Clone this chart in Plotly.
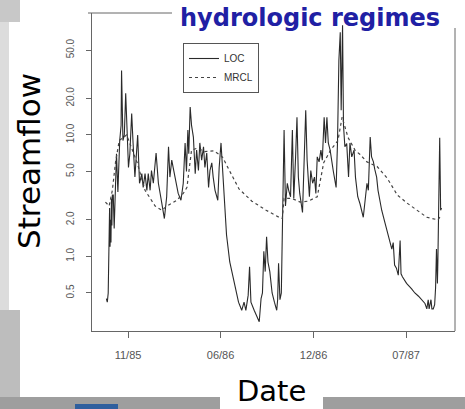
import pandas as pd
import plotly.graph_objects as go

# ---------------- data ----------------
start_date = "1985-10-01"

loc_day = [2, 4, 6, 7, 9, 10, 11, 12, 13, 14, 15, 17, 19, 24, 27, 31, 34, 35, 38, 41,
           44, 47, 50, 53, 57, 60, 64, 70, 74, 79, 82, 86, 90, 93, 97, 100, 104, 110, 115, 122,
           128, 133, 137, 140, 144, 147, 151, 158, 164, 169, 173, 176, 179, 181, 184, 187, 191, 195, 198, 202,
           205, 209, 213, 216, 220, 224, 227, 231, 234, 238, 244, 247, 251, 254, 258, 263, 270, 281, 289, 296,
           301, 305, 310, 313, 316, 323, 329, 334, 338, 341, 344, 347, 350, 353, 357, 362, 367, 372, 374, 376,
           379, 382, 385, 388, 391, 395, 398, 402, 406, 409, 413, 416, 419, 422, 428, 432, 435, 438, 443, 446,
           450, 454, 457, 460, 464, 468, 471, 475, 478, 481, 484, 488, 491, 495, 501, 504, 507, 510, 512, 515,
           517, 520, 524, 528, 531, 535, 540, 543, 548, 553, 560, 565, 568, 571, 575, 578, 582, 585, 589, 592,
           600, 607, 614, 622, 625, 628, 632, 636, 640, 642, 645, 654, 665, 672, 680, 687, 694, 698, 701, 703,
           707, 709, 712, 715, 717, 719, 721, 722, 724, 726, 728, 730]
loc_flow = [0.45, 0.42, 0.5, 1.0, 2.5, 1.2, 2.0, 1.3, 3.0, 1.8, 3.2, 3.2, 1.7, 7.0, 3.4, 9.0, 12, 34, 9, 10,
            22, 9, 5.4, 7, 15, 8.6, 4.5, 10, 4.0, 4.8, 3.7, 4.8, 3.5, 4.8, 3.5, 5.1, 4.0, 7.1, 4.0, 2.8,
            2.05, 3.1, 8.0, 4.5, 6.2, 5.4, 4.5, 3.3, 2.9, 4.0, 8.6, 5.0, 11, 7, 17, 12, 9.6, 4.8, 7.5, 5.1,
            8.6, 6.2, 8.0, 5.4, 7.1, 3.7, 5.1, 5.9, 4.5, 3.5, 2.9, 5.4, 8.6, 5.2, 2.8, 1.5, 0.9, 0.56, 0.42, 0.36,
            0.42, 0.36, 0.48, 0.82, 0.42, 0.36, 0.32, 0.29, 0.45, 0.5, 1.1, 0.75, 1.45, 0.9, 0.75, 0.5, 0.42, 0.36, 0.44, 0.88,
            0.44, 0.5, 2.4, 11, 2.6, 4.0, 3.5, 3.1, 11, 3.0, 6.6, 14, 4.5, 3.3, 2.3, 6.2, 16, 6.2, 3.1, 5.1,
            4.0, 4.5, 3.3, 6.6, 6.0, 7.5, 6.2, 14, 8.6, 14, 8.6, 7.5, 6.0, 5.0, 3.7, 8.6, 41, 70, 16, 80,
            12, 8, 8.5, 4.5, 8.6, 6.6, 7.5, 4.5, 3.1, 2.7, 2.1, 3.0, 4.0, 3.5, 9.6, 6.6, 6.0, 5.2, 4.5, 3.5,
            2.4, 1.9, 1.5, 1.15, 1.3, 0.85, 0.8, 0.7, 1.35, 0.72, 0.68, 0.6, 0.54, 0.5, 0.47, 0.44, 0.41, 0.37, 0.44, 0.37,
            0.44, 0.37, 0.37, 0.4, 0.55, 1.15, 0.6, 0.9, 2.1, 9.5, 2.4, 2.5]

mrcl_day = [0, 8, 15, 22, 30, 46, 69, 86, 108, 122, 134, 155, 169, 177, 187, 200, 215, 235, 250, 255,
            268, 290, 318, 349, 377, 384, 388, 405, 423, 440, 460, 474, 489, 505, 514, 527, 542, 553, 568, 590,
            612, 634, 655, 677, 698, 722, 730]
mrcl_flow = [2.8, 2.6, 3.5, 6, 9, 10, 5.9, 3.5, 2.6, 2.4, 2.6, 2.9, 3.3, 3.7, 7.5, 7.8, 7.3, 7.4, 6.8, 6.5,
             5.2, 3.6, 2.85, 2.4, 2.1, 2.05, 3.0, 3.0, 2.8, 2.85, 3.1, 5.9, 7.5, 9, 14, 9.5, 7.5, 6.9, 6.0, 5.5,
             4.4, 3.2, 2.75, 2.4, 2.1, 2.0, 2.2]

x_tick_dates = ["1985-11-19", "1986-06-08", "1986-12-27", "1987-07-16"]
x_tick_labels = ["11/85", "06/86", "12/86", "07/87"]
y_tick_vals = [0.5, 1, 2, 5, 10, 20, 50]
y_tick_labels = ["0.5", "1.0", "2.0", "5.0", "10.0", "20.0", "50.0"]

series_names = ["LOC", "MRCL"]

# ---------------- figure ----------------
t0 = pd.Timestamp(start_date)
loc_dates = t0 + pd.to_timedelta(loc_day, unit="D")
mrcl_dates = t0 + pd.to_timedelta(mrcl_day, unit="D")
span = max(max(loc_day), max(mrcl_day))
x_lo = (t0 - pd.Timedelta(days=0.04 * span)).strftime("%Y-%m-%d %H:%M:%S")
x_hi = (t0 + pd.Timedelta(days=span * 1.04)).strftime("%Y-%m-%d %H:%M:%S")

W, H = 465, 409
L, R, T, B = 92, 10, 13, 78
PW, PH = W - L - R, H - T - B


def fx(px):
    return (px - L) / PW


def fy(py):
    return (H - B - py) / PH


fig = go.Figure()
fig.add_trace(go.Scatter(x=loc_dates, y=loc_flow, mode="lines", name=series_names[0],
                         line=dict(color="#2a2a2a", width=1.1)))
fig.add_trace(go.Scatter(x=mrcl_dates, y=mrcl_flow, mode="lines", name=series_names[1],
                         line=dict(color="#444444", width=1.2, dash="3px,3px")))

axis_font = dict(family="Liberation Sans, Arial, sans-serif", size=10, color="#555555")

fig.update_xaxes(type="date", range=[x_lo, x_hi], tickmode="array",
                 tickvals=x_tick_dates, ticktext=x_tick_labels,
                 showgrid=False, zeroline=False, showline=True, linecolor="#666666", linewidth=1,
                 ticks="outside", ticklen=6, tickcolor="#666666", tickfont=dict(axis_font, size=11),
                 ticklabelstandoff=8)
fig.update_yaxes(type="log", range=[-0.614, 2.004], tickmode="array",
                 tickvals=y_tick_vals, ticktext=y_tick_labels, tickangle=-90,
                 showgrid=False, zeroline=False, showline=True, linecolor="#666666", linewidth=1,
                 ticks="outside", ticklen=5, tickcolor="#666666", tickfont=axis_font,
                 ticklabelstandoff=8)

shapes = [
    # slide background pieces
    dict(type="rect", xref="paper", yref="paper", x0=fx(0), x1=fx(20), y0=fy(22), y1=fy(0),
         fillcolor="#c8c8c8", line=dict(width=0), layer="below"),
    dict(type="rect", xref="paper", yref="paper", x0=fx(0), x1=fx(9), y0=fy(310), y1=fy(22),
         fillcolor="#dcdcdc", line=dict(width=0), layer="below"),
    dict(type="rect", xref="paper", yref="paper", x0=fx(0), x1=fx(20), y0=fy(409), y1=fy(310),
         fillcolor="#bdbdbd", line=dict(width=0), layer="below"),
    dict(type="rect", xref="paper", yref="paper", x0=fx(0), x1=fx(465), y0=fy(409), y1=fy(397),
         fillcolor="#9e9e9e", line=dict(width=0), layer="below"),
    dict(type="rect", xref="paper", yref="paper", x0=fx(220), x1=fx(323), y0=fy(409), y1=fy(378),
         fillcolor="white", line=dict(width=0), layer="below"),
    dict(type="rect", xref="paper", yref="paper", x0=fx(75), x1=fx(118), y0=fy(409), y1=fy(404),
         fillcolor="#2f5f9e", line=dict(width=0), layer="below"),
    # partial frame (top and right), rest hidden under title
    dict(type="line", xref="paper", yref="paper", x0=fx(88), x1=fx(172), y0=1, y1=1,
         line=dict(color="#666666", width=1)),
    dict(type="line", xref="paper", yref="paper", x0=1, x1=1, y0=0, y1=fy(28),
         line=dict(color="#666666", width=1)),
]

annotations = [
    dict(text="<b>hydrologic regimes</b>", xref="paper", yref="paper", x=fx(309.5), y=fy(18),
         xanchor="center", yanchor="middle", showarrow=False,
         font=dict(family="DejaVu Sans", size=24, color="#2020a4")),
    dict(text="Streamflow", xref="paper", yref="paper", x=fx(29), y=fy(161),
         xanchor="center", yanchor="middle", showarrow=False, textangle=-90,
         font=dict(family="DejaVu Sans", size=31, color="black")),
    dict(text="Date", xref="paper", yref="paper", x=fx(271), y=fy(391),
         xanchor="center", yanchor="middle", showarrow=False,
         font=dict(family="DejaVu Sans", size=29, color="black")),
]

fig.update_layout(
    width=W, height=H, margin=dict(l=L, r=R, t=T, b=B, pad=0),
    paper_bgcolor="white", plot_bgcolor="white",
    showlegend=True,
    legend=dict(x=fx(183), y=fy(43), xanchor="left", yanchor="top",
                bgcolor="white", bordercolor="#555555", borderwidth=1,
                font=dict(family="Liberation Sans, Arial, sans-serif", size=10, color="#333333"),
                tracegroupgap=0, itemwidth=30),
    shapes=shapes, annotations=annotations,
)

fig.write_html("out.html", config={"displayModeBar": False},
               post_script="document.body.style.margin='0';")
